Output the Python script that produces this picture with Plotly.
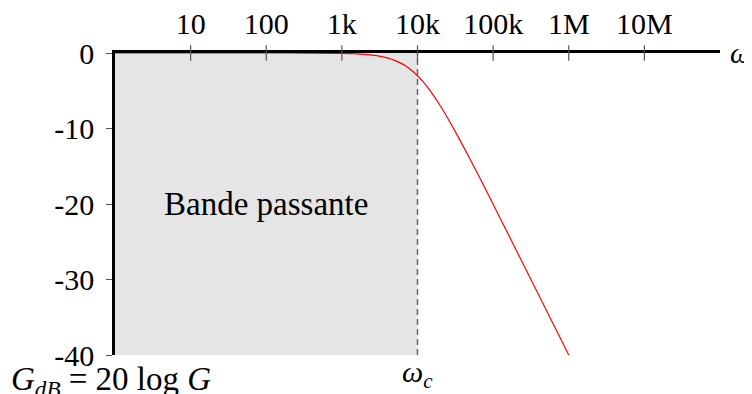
import plotly.graph_objects as go

# Data
omega = [1, 10, 100, 300, 1000, 1500, 2000, 3000, 4000, 5000, 6000, 7000, 8000,
         10000, 12000, 15000, 20000, 25000, 30000, 40000, 50000, 70000, 100000,
         150000, 200000, 300000, 500000, 700000, 1000000]
gain_db = [0, 0, 0, -0.004, -0.04, -0.1, -0.17, -0.37, -0.64, -0.97, -1.34, -1.72, -2.15,
           -3.01, -3.87, -5.12, -6.99, -8.60, -10.0, -12.3, -14.15, -16.94, -20.04,
           -23.52, -26.02, -29.54, -33.98, -36.9, -40.0]
omega_c = 10000
x_tickvals = [10, 100, 1000, 10000, 100000, 1000000, 10000000]
x_ticktext = ["10", "100", "1k", "10k", "100k", "1M", "10M"]
y_tickvals = [0, -10, -20, -30, -40]
y_ticktext = ["0", "-10", "-20", "-30", "-40"]
band_label = "Bande passante"

FONT = "Liberation Serif"
fig = go.Figure()

# tick marks crossing the horizontal axis
fig.add_trace(go.Scatter(
    x=x_tickvals, y=[0] * len(x_tickvals), mode="markers",
    marker=dict(symbol="line-ns-open", size=11, color="#555",
                line=dict(color="#555", width=1.2)),
    hoverinfo="skip", showlegend=False, cliponaxis=False))

# dashed cutoff line
fig.add_trace(go.Scatter(
    x=[omega_c, omega_c], y=[y_tickvals[-1], y_tickvals[0]], mode="lines",
    line=dict(color="#666", width=1.5, dash="6px,4px"),
    hoverinfo="skip", showlegend=False))

# gain curve
fig.add_trace(go.Scatter(
    x=omega, y=gain_db, mode="lines", line=dict(color="#ff0000", width=1.2, shape="spline"),
    hoverinfo="skip", showlegend=False, cliponaxis=False))

# pass band rectangle
fig.add_shape(type="rect", xref="x", yref="y", x0=omega[0], x1=omega_c,
              y0=y_tickvals[-1], y1=0, fillcolor="#e5e5e5", line=dict(width=0), layer="below")

fig.add_annotation(x=2, y=-20, xref="x", yref="y", text=band_label, showarrow=False,
                   font=dict(family=FONT, size=33, color="black"))
fig.add_annotation(x=1, y=0, xref="paper", yref="y", xanchor="left", xshift=8,
                   text="<i>ω</i>", showarrow=False, font=dict(family=FONT, size=29, color="black"))
fig.add_annotation(x=4, y=-40, xref="x", yref="y", yanchor="top", yshift=2,
                   text="<i>ω<sub>c</sub></i>", showarrow=False,
                   font=dict(family=FONT, size=30, color="black"))
fig.add_annotation(x=0, y=-40, xref="paper", yref="y", xanchor="left", yanchor="top",
                   xshift=-106, yshift=-4,
                   text="<i>G<sub>dB</sub></i> = 20 log <i>G</i>", showarrow=False,
                   font=dict(family=FONT, size=33, color="black"))

# page body has an 8px default margin: shift plot margins to compensate
fig.update_layout(
    width=752, height=394,
    margin=dict(l=107, r=40, t=45, b=47, autoexpand=False),
    paper_bgcolor="white", plot_bgcolor="white",
    font=dict(family=FONT, size=30, color="black"),
    xaxis=dict(type="log", range=[0, 8], side="top", showgrid=False, zeroline=False,
               showline=True, linecolor="black", linewidth=2.5, layer="below traces",
               tickvals=x_tickvals, ticktext=x_ticktext, ticks="", automargin=False,
               ticklabelstandoff=4, tickfont=dict(family=FONT, size=30)),
    yaxis=dict(range=[-40, 0], showgrid=False, zeroline=False,
               showline=True, linecolor="black", linewidth=2.5, layer="below traces",
               tickvals=y_tickvals, ticktext=y_ticktext, ticks="outside", ticklen=6,
               tickcolor="#555", tickwidth=1.2, ticklabelstandoff=6, automargin=False,
               tickfont=dict(family=FONT, size=30)),
)

fig.write_html("out.html")
